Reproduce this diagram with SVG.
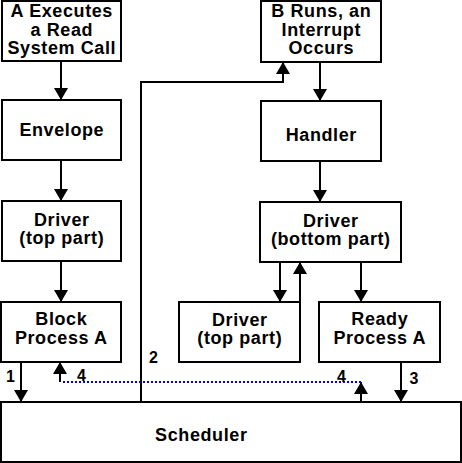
<svg xmlns="http://www.w3.org/2000/svg" width="462" height="463" viewBox="0 0 462 463">
<style>
.box{fill:#fff;stroke:#000;stroke-width:2}
.t{font-family:"Liberation Sans",Arial,sans-serif;font-weight:bold;font-size:18px;letter-spacing:0.6px;text-anchor:middle;fill:#000}
.n{font-family:"Liberation Sans",Arial,sans-serif;font-weight:bold;font-size:16px;text-anchor:middle;fill:#000}
.c{stroke:#000;stroke-width:2;fill:none}
.d{stroke:#0000e0;stroke-width:2;stroke-dasharray:2 2;fill:none}
</style>
<defs>
<marker id="ah" viewBox="0 0 12 14" markerWidth="12" markerHeight="14" refX="12" refY="7" orient="auto" markerUnits="userSpaceOnUse">
<path d="M0,0 L12,7 L0,14 Z" fill="#000"/>
</marker>
</defs>
<g id="connectors">
<line class="c" x1="61" y1="61" x2="61" y2="100" marker-end="url(#ah)"/>
<line class="c" x1="61" y1="160" x2="61" y2="201" marker-end="url(#ah)"/>
<line class="c" x1="61" y1="261" x2="61" y2="302" marker-end="url(#ah)"/>
<line class="c" x1="21" y1="362" x2="21" y2="402" marker-end="url(#ah)"/>
<polyline class="c" points="141,402 141,82 283,82 283,62" marker-end="url(#ah)"/>
<line class="c" x1="320" y1="62" x2="320" y2="101" marker-end="url(#ah)"/>
<line class="c" x1="320" y1="161" x2="320" y2="202" marker-end="url(#ah)"/>
<line class="c" x1="280" y1="262" x2="280" y2="302" marker-end="url(#ah)"/>
<line class="c" x1="300" y1="302" x2="300" y2="262" marker-end="url(#ah)"/>
<line class="c" x1="361" y1="262" x2="361" y2="302" marker-end="url(#ah)"/>
<line class="c" x1="401" y1="362" x2="401" y2="402" marker-end="url(#ah)"/>
<line class="c" x1="361" y1="402" x2="361" y2="382" marker-end="url(#ah)"/>
<line class="c" x1="60" y1="382" x2="60" y2="362" marker-end="url(#ah)"/>
<line class="d" x1="63" y1="382" x2="361" y2="382"/>
<text class="n" x="10.5" y="382">1</text>
<text class="n" x="153.5" y="363">2</text>
<text class="n" x="414" y="384">3</text>
<text class="n" x="81.5" y="381">4</text>
<text class="n" x="341.5" y="382">4</text>
</g>
<g id="a-executes">
<rect class="box" x="2" y="1" width="119" height="60"/>
<text class="t" x="61.8" y="17">A Executes</text>
<text class="t" x="61.8" y="36">a Read</text>
<text class="t" x="61.8" y="54">System Call</text>
</g>
<g id="envelope">
<rect class="box" x="2" y="100" width="119" height="60"/>
<text class="t" x="61.8" y="136">Envelope</text>
</g>
<g id="driver-top-left">
<rect class="box" x="2" y="201" width="119" height="60"/>
<text class="t" x="61.8" y="226">Driver</text>
<text class="t" x="61.8" y="244">(top part)</text>
</g>
<g id="block-process">
<rect class="box" x="1" y="302" width="120" height="60"/>
<text class="t" x="61.3" y="325">Block</text>
<text class="t" x="61.3" y="344">Process A</text>
</g>
<g id="b-runs">
<rect class="box" x="261" y="1" width="120" height="61"/>
<text class="t" x="321.3" y="17">B Runs, an</text>
<text class="t" x="321.3" y="36">Interrupt</text>
<text class="t" x="321.3" y="54">Occurs</text>
</g>
<g id="handler">
<rect class="box" x="261" y="101" width="120" height="60"/>
<text class="t" x="321.3" y="141">Handler</text>
</g>
<g id="driver-bottom">
<rect class="box" x="260" y="202" width="141" height="60"/>
<text class="t" x="330.8" y="227">Driver</text>
<text class="t" x="330.8" y="245">(bottom part)</text>
</g>
<g id="driver-top-right">
<rect class="box" x="179" y="302" width="121" height="60"/>
<text class="t" x="239.8" y="326">Driver</text>
<text class="t" x="239.8" y="344">(top part)</text>
</g>
<g id="ready-process">
<rect class="box" x="319" y="302" width="121" height="60"/>
<text class="t" x="379.8" y="325">Ready</text>
<text class="t" x="379.8" y="344">Process A</text>
</g>
<g id="scheduler">
<rect class="box" x="1" y="402" width="460" height="60"/>
<text class="t" x="201.3" y="441">Scheduler</text>
</g>
</svg>
